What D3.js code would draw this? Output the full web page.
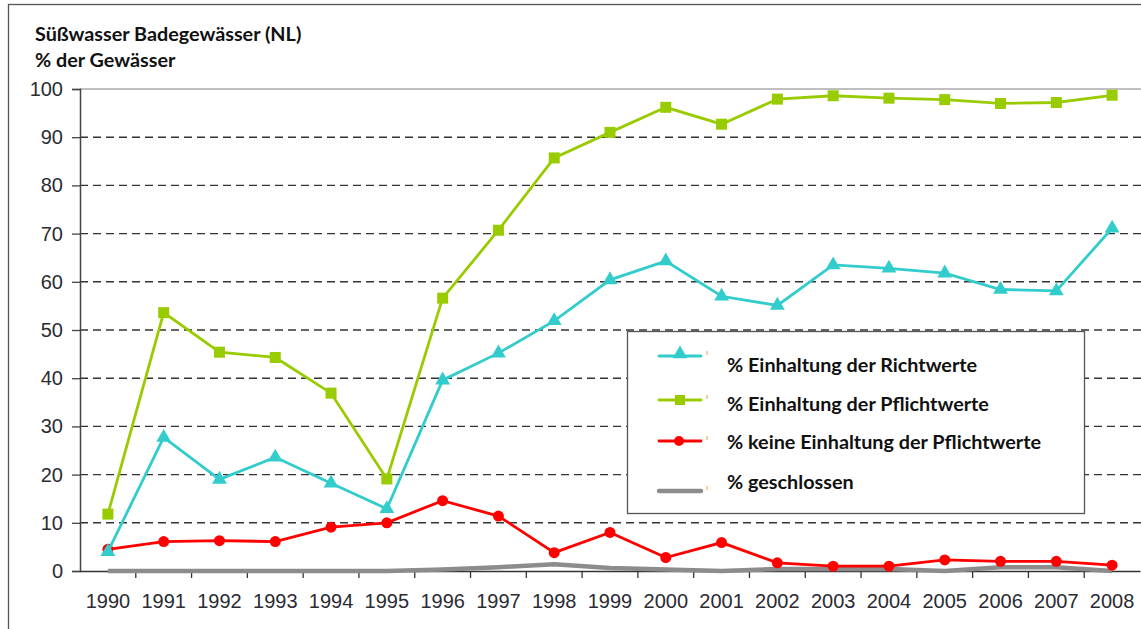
<!DOCTYPE html>
<html><head><meta charset="utf-8">
<script src="https://cdn.jsdelivr.net/npm/d3@7"></script>
<style>body{margin:0;background:#fff}svg{display:block}</style>
</head><body>
<svg id="c" width="1141" height="629"></svg>
<script>
const years = ["1990","1991","1992","1993","1994","1995","1996","1997","1998","1999","2000","2001","2002","2003","2004","2005","2006","2007","2008"];
const richtwerte = [4.0,27.7,19.0,23.6,18.2,12.9,39.6,45.2,51.9,60.4,64.3,57.0,55.1,63.5,62.8,61.8,58.4,58.1,71.1];
const pflichtwerte = [11.8,53.6,45.4,44.3,36.9,19.1,56.6,70.7,85.7,91.0,96.2,92.7,97.9,98.6,98.1,97.8,97.0,97.2,98.7];
const keineEinhaltung = [4.5,6.1,6.3,6.1,9.1,10.0,14.6,11.4,3.8,8.0,2.8,5.9,1.7,1.0,1.0,2.3,2.0,2.0,1.2];
const geschlossen = [0,0,0,0,0,0,0.3,0.8,1.4,0.6,0.3,0,0.4,0.4,0.4,0,0.8,0.8,0];
const yTicks = [0,10,20,30,40,50,60,70,80,90,100];
const titleLines = ["Süßwasser Badegewässer (NL)","% der Gewässer"];
const seriesNames = ["% Einhaltung der Richtwerte","% Einhaltung der Pflichtwerte","% keine Einhaltung der Pflichtwerte","% geschlossen"];

const svg = d3.select("#c");
const L = 80, T = 89, B = 571, R = 1140;
const x = d3.scaleBand().domain(years).range([L, R]);
const y = d3.scaleLinear().domain([0,100]).range([B, T]);

// outer frame
svg.append("rect").attr("x",8.5).attr("y",4.5).attr("width",1200).attr("height",700)
  .attr("fill","none").attr("stroke","#555").attr("stroke-width",1.3);

// title
svg.selectAll(".title").data(titleLines).join("text")
  .attr("x",35).attr("y",(d,i)=>41+i*26)
  .attr("font-family","Lato, 'Open Sans', sans-serif").attr("font-weight","bold")
  .attr("font-size",19.8).attr("fill","#111").text(d=>d);

// plot top border
svg.append("line").attr("x1",L).attr("x2",R+5).attr("y1",T).attr("y2",T).attr("stroke","#aaa").attr("stroke-width",1.5);

// grid
svg.append("g").selectAll("line").data(yTicks.filter(d=>d>0 && d<100)).join("line")
  .attr("x1",L).attr("x2",R+5).attr("y1",d=>y(d)).attr("y2",d=>y(d))
  .attr("stroke","#333").attr("stroke-width",1.4).attr("stroke-dasharray","8,5");

const axisFont = "'Liberation Sans', Arial, sans-serif";
// y axis
const ya = svg.append("g").attr("transform",`translate(${L},0)`)
  .call(d3.axisLeft(y).tickValues(yTicks).tickSize(8).tickPadding(9));
ya.select(".domain").attr("stroke","#444").attr("stroke-width",1.5);
ya.selectAll(".tick line").attr("stroke","#444").attr("stroke-width",1.3).attr("x2",-8).attr("x1",1);
ya.selectAll("text").attr("font-family",axisFont).attr("font-size",20).attr("fill","#2b2b33");

// x axis
const xa = svg.append("g").attr("transform",`translate(0,${B})`)
  .call(d3.axisBottom(x).tickSize(0).tickPadding(23));
xa.select(".domain").attr("stroke","#333").attr("stroke-width",1.5);
xa.selectAll("text").attr("font-family",axisFont).attr("font-size",20).attr("fill","#2b2b33");
svg.append("g").selectAll("line").data(years.slice(1)).join("line")
  .attr("x1",d=>x(d)).attr("x2",d=>x(d)).attr("y1",B).attr("y2",B+7)
  .attr("stroke","#333").attr("stroke-width",1.3);

const cx = d => x(d) + x.bandwidth()/2;
const line = d3.line().x((d,i)=>cx(years[i])).y(d=>y(d));

const colors = {cyan:"#33CCCC", green:"#99CC00", red:"#FF0000", gray:"#8C8C8C"};

// geschlossen
svg.append("path").datum(geschlossen).attr("d",line).attr("fill","none")
  .attr("stroke",colors.gray).attr("stroke-width",4.5).attr("stroke-linejoin","round");

// red
svg.append("path").datum(keineEinhaltung).attr("d",line).attr("fill","none")
  .attr("stroke",colors.red).attr("stroke-width",2.8);
svg.append("g").selectAll("circle").data(keineEinhaltung).join("circle")
  .attr("cx",(d,i)=>cx(years[i])).attr("cy",d=>y(d)).attr("r",5.5).attr("fill",colors.red);

// green
svg.append("path").datum(pflichtwerte).attr("d",line).attr("fill","none")
  .attr("stroke",colors.green).attr("stroke-width",2.8);
svg.append("g").selectAll("rect").data(pflichtwerte).join("rect")
  .attr("x",(d,i)=>cx(years[i])-5.5).attr("y",d=>y(d)-5.5).attr("width",11).attr("height",11).attr("fill",colors.green);

// cyan
svg.append("path").datum(richtwerte).attr("d",line).attr("fill","none")
  .attr("stroke",colors.cyan).attr("stroke-width",2.8);
const tri = d3.symbol().type(d3.symbolTriangle).size(95);
svg.append("g").selectAll("path").data(richtwerte).join("path")
  .attr("d",tri).attr("transform",(d,i)=>`translate(${cx(years[i])},${y(d)})`).attr("fill",colors.cyan);

// legend
const lg = svg.append("g");
lg.append("rect").attr("x",627.5).attr("y",331.5).attr("width",457).attr("height",182)
  .attr("fill","#fff").attr("stroke","#555").attr("stroke-width",1.3);
const rowsY = [356,400,441,491];
const textY = [372,411,449,489];
const legendStyles = [
  {c:colors.cyan, w:2.8, m:"tri"},
  {c:colors.green, w:2.8, m:"sq"},
  {c:colors.red, w:2.8, m:"circ"},
  {c:colors.gray, w:4.5, m:null}
];
seriesNames.forEach((name,i)=>{
  const st = legendStyles[i], ry = rowsY[i];
  lg.append("line").attr("x1",659).attr("x2",701).attr("y1",ry).attr("y2",ry)
    .attr("stroke",st.c).attr("stroke-width",st.w).attr("stroke-linecap","round");
  if(st.m==="tri") lg.append("path").attr("d",tri).attr("transform",`translate(680,${ry-2})`).attr("fill",st.c);
  if(st.m==="sq") lg.append("rect").attr("x",675).attr("y",ry-5).attr("width",10).attr("height",10).attr("fill",st.c);
  if(st.m==="circ") lg.append("circle").attr("cx",679).attr("cy",ry).attr("r",5).attr("fill",st.c);
  lg.append("line").attr("x1",707).attr("x2",707).attr("y1",ry-5).attr("y2",ry-1)
    .attr("stroke","#E8A040").attr("stroke-width",1);
  lg.append("text").attr("x",727).attr("y",textY[i])
    .attr("font-family","Lato, 'Open Sans', sans-serif").attr("font-weight","bold")
    .attr("font-size",19.8).attr("fill","#111").text(name);
});
</script>
</body></html>
